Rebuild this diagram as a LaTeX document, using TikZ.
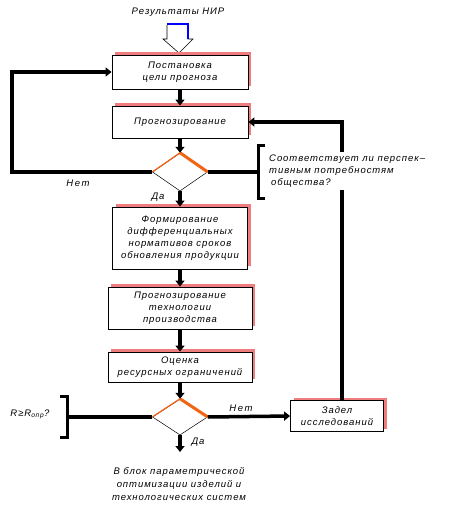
\documentclass[tikz,border=0pt]{standalone}
\usepackage{fontspec}
\setmainfont{Liberation Sans}[LetterSpace=10]
\usetikzlibrary{shapes.geometric,arrows.meta,shadows}
\definecolor{shadowred}{RGB}{240,125,125}
\definecolor{diaorange}{RGB}{240,100,20}
\begin{document}
\begin{tikzpicture}[x=1pt,y=-1pt,
  font=\fontsize{9.5}{12}\selectfont\itshape,
  box/.style={draw, line width=0.8pt, fill=white, align=center, inner sep=1pt,
    general shadow={fill=shadowred, shadow xshift=3pt, shadow yshift=3pt}},
  dia/.style={diamond, draw, line width=0.5pt, fill=white, inner sep=0pt},
  thk/.style={line width=3.5pt},
  arr/.style={thk, -{Triangle[length=6pt,width=9pt]}},
  brk/.style={line width=3pt},
  lbl/.style={inner sep=1pt}
]
\useasboundingbox (0,0) rectangle (464,512);

% title and hollow arrow
\node[lbl] (res) at (178,12) {Результаты НИР};
\draw[line width=0.6pt, fill=white] (167,25) -- (167,39) -- (163,39) -- (179,53) -- (193,39) -- (188,39) -- (188,25);
\draw[blue, line width=1.5pt] (167,24) -- (188,24) -- (188,39);

% boxes
\node[box, minimum width=136, minimum height=34] (b1) at (180,72) {Постановка\\цели прогноза};
\node[box, minimum width=136, minimum height=32] (b2) at (180,122) {Прогнозирование};
\node[box, minimum width=135, minimum height=62] (b3) at (180,238) {Формирование\\дифференциальных\\нормативов сроков\\обновления продукции};
\node[box, minimum width=144, minimum height=42] (b4) at (180,308) {Прогнозирование\\технологии\\производства};
\node[box, minimum width=144, minimum height=30] (b5) at (180,367) {Оценка\\ресурсных ограничений};
\node[box, minimum width=93, minimum height=31] (z) at (337,416) {Задел\\исследований};

% diamonds
\node[dia, minimum width=55, minimum height=38] (d1) at (180,172) {};
\draw[diaorange, line width=1.2pt] (d1.west) -- (d1.north);
\draw[diaorange, line width=3pt] (d1.north) -- (d1.east);
\node[dia, minimum width=55, minimum height=36] (d2) at (180,417) {};
\draw[diaorange, line width=1.2pt] (d2.west) -- (d2.north);
\draw[diaorange, line width=3pt] (d2.north) -- (d2.east);

% main flow
\draw[arr] (b1.south) -- (b2.north);
\draw[arr] (b2.south) -- (d1.north);
\draw[arr] (d1.south) -- (b3.north);
\draw[arr] (b3.south) -- (b4.north);
\draw[arr] (b4.south) -- (b5.north);
\draw[arr] (b5.south) -- (d2.north);
\coordinate (out) at (180,452);
\draw[arr] (d2.south) -- (out);

% left loop
\coordinate (l1) at (12,172);
\coordinate (l2) at (12,72);
\draw[arr] (d1.west) -- (l1) -- (l2) -- (b1.west);
\node[lbl] (net1) at (78,183) {Н\,е\,т};
\node[lbl] (da1) at (158,197) {Да};

% right loop
\coordinate (r1) at (342,122);
\draw[arr] (z.north -| r1) -- (r1) -- (b2.east);

% question 1
\coordinate (br1) at (258,172);
\draw[thk] (d1.east) -- (br1);
\draw[brk] (265,145) -- (258,145) -- (258,198) -- (265,198);
\node[fill=white, align=left, anchor=west, inner sep=3pt] (q1) at (266,171)
  {Соответствует ли перспек–\\тивным потребностям\\\hspace{2pt}общества?};

% second decision
\draw[arr] (d2.east) -- (z.west);
\node[lbl] (net2) at (241,408) {Н\,е\,т};
\node[lbl] (da2) at (198,442) {Да};
\coordinate (br2) at (67,417);
\draw[thk] (d2.west) -- (br2);
\draw[brk] (60,396) -- (67,396) -- (67,437) -- (60,437);
\node[lbl] (q2) at (30,414) {R≥R\textsubscript{опр}?};

% output text
\node[align=center, font=\fontsize{9.5}{13}\selectfont\itshape] (res2) at (179,484)
  {В блок параметрической\\оптимизации изделий и\\технологических систем};
\end{tikzpicture}
\end{document}
